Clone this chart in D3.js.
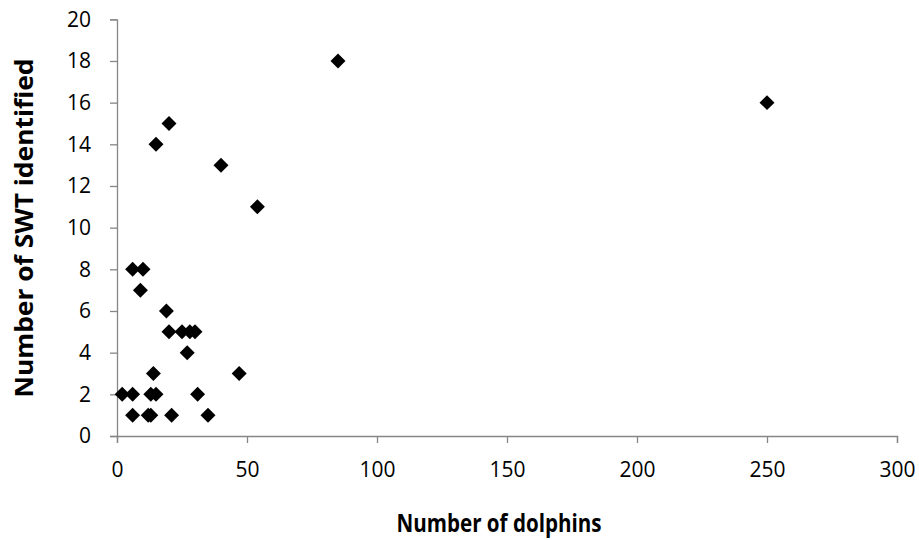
<!DOCTYPE html>
<html><head><meta charset="utf-8">
<script src="https://cdn.jsdelivr.net/npm/d3@7"></script>
<style>body{margin:0;background:#fff}</style>
</head><body><svg id="c" width="919" height="540"></svg>
<script>
const dolphins = [6, 10, 9, 19, 20, 25, 28, 30, 27, 14, 47, 2, 6, 13, 15, 31, 6, 12, 13, 21, 35, 20, 15, 40, 54, 85, 250];
const swt      = [8, 8, 7, 6, 5, 5, 5, 5, 4, 3, 3, 2, 2, 2, 2, 2, 1, 1, 1, 1, 1, 15, 14, 13, 11, 18, 16];
const xTicks = [0, 50, 100, 150, 200, 250, 300];
const yTicks = [0, 2, 4, 6, 8, 10, 12, 14, 16, 18, 20];

const svg = d3.select("#c");
const x = d3.scaleLinear().domain([0, 300]).range([117, 897]);
const y = d3.scaleLinear().domain([0, 20]).range([436, 19.3]);
const font = "Open Sans, sans-serif";
const axisColor = "#868686";

const xa = svg.append("g").attr("transform", "translate(0,436)")
  .call(d3.axisBottom(x).tickValues(xTicks).tickSizeOuter(0).tickSize(7).tickPadding(19));
const ya = svg.append("g").attr("transform", "translate(117,0)")
  .call(d3.axisLeft(y).tickValues(yTicks).tickSizeOuter(0).tickSize(7).tickPadding(19));
[xa, ya].forEach(a => {
  a.select(".domain").attr("stroke", axisColor).attr("stroke-width", 1.3);
  a.selectAll(".tick line").attr("stroke", axisColor).attr("stroke-width", 1.3);
  a.selectAll("text").attr("font-family", font).attr("font-size", 21).attr("fill", "#000");
});

svg.append("g").selectAll("path").data(dolphins).join("path")
  .attr("d", d3.symbol(d3.symbolSquare, 112)())
  .attr("transform", (d, i) => `translate(${x(d)},${y(swt[i])}) rotate(45)`)
  .attr("fill", "#000");

svg.append("text").attr("x", 499).attr("y", 532).attr("text-anchor", "middle")
  .attr("font-family", font).attr("font-weight", "bold").attr("font-size", 25)
  .attr("textLength", 205).attr("lengthAdjust", "spacingAndGlyphs")
  .text("Number of dolphins");
svg.append("text").attr("transform", "translate(33,228) rotate(-90)").attr("text-anchor", "middle")
  .attr("font-family", font).attr("font-weight", "bold").attr("font-size", 25)
  .attr("textLength", 339).attr("lengthAdjust", "spacingAndGlyphs")
  .text("Number of SWT identified");
</script></body></html>
